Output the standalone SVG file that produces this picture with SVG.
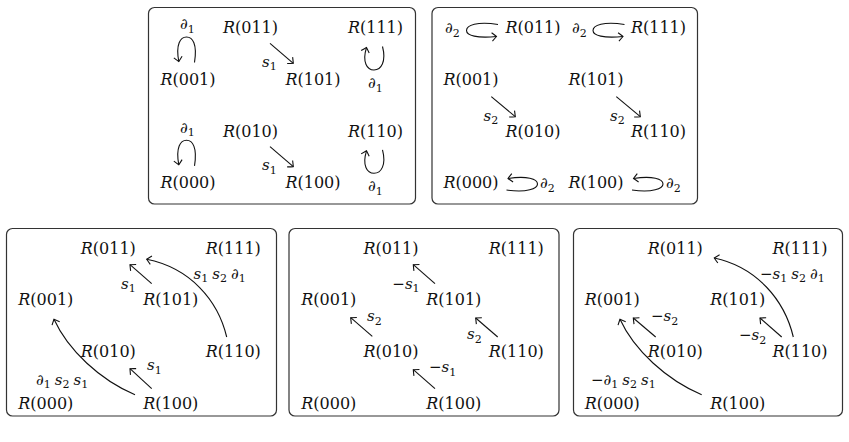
<svg xmlns="http://www.w3.org/2000/svg" width="849" height="442" viewBox="0 0 849 442">
<defs>
<style>
.box{fill:none;stroke:#333;stroke-width:1.2}
.n{font-family:"DejaVu Serif","Liberation Serif",serif;font-size:16px;text-anchor:middle;fill:#111}
.l{font-family:"DejaVu Serif","Liberation Serif",serif;font-size:15px;fill:#111}
.i{font-style:italic}
.sub{font-size:11px;font-style:normal}
.e{fill:none;stroke:#111;stroke-width:1.1;marker-end:url(#to)}
</style>
<marker id="to" viewBox="-7 -7 14 14" refX="0" refY="0" markerWidth="14" markerHeight="14" markerUnits="userSpaceOnUse" orient="auto" overflow="visible">
<path d="M-4.5,-4.2 Q-1.2,-1.2 0,0 Q-1.2,1.2 -4.5,4.2" fill="none" stroke="#111" stroke-width="1.1"/>
</marker>
</defs>

<g id="box1">
<rect class="box" x="148.5" y="7.5" width="267" height="196.5" rx="6"/>
<g id="b1-n011"><text class="n" x="250.5" y="33.3"><tspan class="i">R</tspan>(011)</text></g>
<g id="b1-n111"><text class="n" x="375.5" y="33.3"><tspan class="i">R</tspan>(111)</text></g>
<g id="b1-n001"><text class="n" x="188" y="85"><tspan class="i">R</tspan>(001)</text></g>
<g id="b1-n101"><text class="n" x="313" y="85"><tspan class="i">R</tspan>(101)</text></g>
<g id="b1-n010"><text class="n" x="250.5" y="136.7"><tspan class="i">R</tspan>(010)</text></g>
<g id="b1-n110"><text class="n" x="375.5" y="136.7"><tspan class="i">R</tspan>(110)</text></g>
<g id="b1-n000"><text class="n" x="188" y="188.3"><tspan class="i">R</tspan>(000)</text></g>
<g id="b1-n100"><text class="n" x="313" y="188.3"><tspan class="i">R</tspan>(100)</text></g>
</g>

<g id="box2">
<rect class="box" x="432" y="7.5" width="265.5" height="196.5" rx="6"/>
<g id="b2-n011"><text class="n" x="533" y="33.3"><tspan class="i">R</tspan>(011)</text></g>
<g id="b2-n111"><text class="n" x="658.5" y="33.3"><tspan class="i">R</tspan>(111)</text></g>
<g id="b2-n001"><text class="n" x="471" y="85"><tspan class="i">R</tspan>(001)</text></g>
<g id="b2-n101"><text class="n" x="596" y="85"><tspan class="i">R</tspan>(101)</text></g>
<g id="b2-n010"><text class="n" x="533" y="136.7"><tspan class="i">R</tspan>(010)</text></g>
<g id="b2-n110"><text class="n" x="658.5" y="136.7"><tspan class="i">R</tspan>(110)</text></g>
<g id="b2-n000"><text class="n" x="471" y="188.3"><tspan class="i">R</tspan>(000)</text></g>
<g id="b2-n100"><text class="n" x="596" y="188.3"><tspan class="i">R</tspan>(100)</text></g>
</g>

<g id="box3">
<rect class="box" x="6.5" y="228.5" width="270" height="187.5" rx="6"/>
<g id="b3-n011"><text class="n" x="108.3" y="253.7"><tspan class="i">R</tspan>(011)</text></g>
<g id="b3-n111"><text class="n" x="233.3" y="253.7"><tspan class="i">R</tspan>(111)</text></g>
<g id="b3-n001"><text class="n" x="45.8" y="305.3"><tspan class="i">R</tspan>(001)</text></g>
<g id="b3-n101"><text class="n" x="170.8" y="305.3"><tspan class="i">R</tspan>(101)</text></g>
<g id="b3-n010"><text class="n" x="108.3" y="357"><tspan class="i">R</tspan>(010)</text></g>
<g id="b3-n110"><text class="n" x="233.3" y="357"><tspan class="i">R</tspan>(110)</text></g>
<g id="b3-n000"><text class="n" x="45.8" y="408.7"><tspan class="i">R</tspan>(000)</text></g>
<g id="b3-n100"><text class="n" x="170.8" y="408.7"><tspan class="i">R</tspan>(100)</text></g>
</g>

<g id="box4">
<rect class="box" x="289" y="228.5" width="270" height="187.5" rx="6"/>
<g id="b4-n011"><text class="n" x="391" y="253.7"><tspan class="i">R</tspan>(011)</text></g>
<g id="b4-n111"><text class="n" x="516.3" y="253.7"><tspan class="i">R</tspan>(111)</text></g>
<g id="b4-n001"><text class="n" x="328.8" y="305.3"><tspan class="i">R</tspan>(001)</text></g>
<g id="b4-n101"><text class="n" x="453.8" y="305.3"><tspan class="i">R</tspan>(101)</text></g>
<g id="b4-n010"><text class="n" x="391" y="357"><tspan class="i">R</tspan>(010)</text></g>
<g id="b4-n110"><text class="n" x="516.3" y="357"><tspan class="i">R</tspan>(110)</text></g>
<g id="b4-n000"><text class="n" x="328.8" y="408.7"><tspan class="i">R</tspan>(000)</text></g>
<g id="b4-n100"><text class="n" x="453.8" y="408.7"><tspan class="i">R</tspan>(100)</text></g>
</g>

<g id="box5">
<rect class="box" x="573.5" y="228.5" width="269" height="187.5" rx="6"/>
<g id="b5-n011"><text class="n" x="675.3" y="253.7"><tspan class="i">R</tspan>(011)</text></g>
<g id="b5-n111"><text class="n" x="800" y="253.7"><tspan class="i">R</tspan>(111)</text></g>
<g id="b5-n001"><text class="n" x="612.3" y="305.3"><tspan class="i">R</tspan>(001)</text></g>
<g id="b5-n101"><text class="n" x="737.8" y="305.3"><tspan class="i">R</tspan>(101)</text></g>
<g id="b5-n010"><text class="n" x="675.3" y="357"><tspan class="i">R</tspan>(010)</text></g>
<g id="b5-n110"><text class="n" x="800" y="357"><tspan class="i">R</tspan>(110)</text></g>
<g id="b5-n000"><text class="n" x="612.3" y="408.7"><tspan class="i">R</tspan>(000)</text></g>
<g id="b5-n100"><text class="n" x="737.8" y="408.7"><tspan class="i">R</tspan>(100)</text></g>
</g>

<g id="connectors">
<!-- box 1 -->
<path class="e" d="M194.5,62.5 C197.5,44 192.5,37 186.5,37 C180.5,37 175.5,44 178.8,61.5"/>
<path class="e" d="M194.5,165.8 C197.5,147.3 192.5,140.3 186.5,140.3 C180.5,140.3 175.5,147.3 178.8,164.8"/>
<path class="e" d="M270,43.3 L293.3,63.3"/>
<path class="e" d="M270,146.6 L293.3,166.6"/>
<path class="e" d="M382.5,46.5 C386.5,62 381,70 374,70 C367,70 362,62 366.5,47.5"/>
<path class="e" d="M382.5,149.8 C386.5,165.3 381,173.3 374,173.3 C367,173.3 362,165.3 366.5,150.8"/>
<!-- box 2 -->
<path class="e" d="M498,24.5 C477,21 466.5,25.5 466.5,30.5 C466.5,35.5 477,38.5 496.5,36.5"/>
<path class="e" d="M624.5,24.5 C603.5,21 593,25.5 593,30.5 C593,35.5 603.5,38.5 623,36.5"/>
<path class="e" d="M491.3,96.7 L515.3,116.7"/>
<path class="e" d="M616.3,96.7 L640.3,116.7"/>
<path class="e" d="M506.5,190 C527,193 537.5,188.5 537.5,184 C537.5,179 527,175.5 508,178.5"/>
<path class="e" d="M632,190 C652.5,193 663,188.5 663,184 C663,179 652.5,175.5 633.5,178.5"/>
<!-- box 3 -->
<path class="e" d="M151.7,283.7 L130,264.7"/>
<path class="e" d="M226.7,337 C218,300 190,268 146.7,259.3"/>
<path class="e" d="M151.7,388.7 L130,368.7"/>
<path class="e" d="M135,394.7 C100,380 68,350 54,319.3"/>
<!-- box 4 -->
<path class="e" d="M435,283.7 L413.3,264.7"/>
<path class="e" d="M372.3,336.3 L350.7,317.7"/>
<path class="e" d="M497.7,337 L475.7,318"/>
<path class="e" d="M435,388.7 L413.3,369.7"/>
<!-- box 5 -->
<path class="e" d="M793.3,337 C784.6,300 756.6,267 714.3,258"/>
<path class="e" d="M781.7,337 L760,318"/>
<path class="e" d="M655.7,337 L633.3,318"/>
<path class="e" d="M701.7,394.7 C666.7,380 634,350 620,319.3"/>
</g>

<g id="labels">
<!-- box 1 -->
<text class="l" x="180" y="29.3"><tspan class="i">∂</tspan><tspan class="sub" dy="3.5">1</tspan></text>
<text class="l" x="180" y="132.6"><tspan class="i">∂</tspan><tspan class="sub" dy="3.5">1</tspan></text>
<text class="l" x="262" y="66.7"><tspan class="i">s</tspan><tspan class="sub" dy="3.5">1</tspan></text>
<text class="l" x="262" y="170"><tspan class="i">s</tspan><tspan class="sub" dy="3.5">1</tspan></text>
<text class="l" x="368" y="88"><tspan class="i">∂</tspan><tspan class="sub" dy="3.5">1</tspan></text>
<text class="l" x="368" y="191.3"><tspan class="i">∂</tspan><tspan class="sub" dy="3.5">1</tspan></text>
<!-- box 2 -->
<text class="l" x="445" y="33.3"><tspan class="i">∂</tspan><tspan class="sub" dy="3.5">2</tspan></text>
<text class="l" x="572" y="33.3"><tspan class="i">∂</tspan><tspan class="sub" dy="3.5">2</tspan></text>
<text class="l" x="483.5" y="120.7"><tspan class="i">s</tspan><tspan class="sub" dy="3.5">2</tspan></text>
<text class="l" x="610" y="120.7"><tspan class="i">s</tspan><tspan class="sub" dy="3.5">2</tspan></text>
<text class="l" x="540" y="188.3"><tspan class="i">∂</tspan><tspan class="sub" dy="3.5">2</tspan></text>
<text class="l" x="666" y="188.3"><tspan class="i">∂</tspan><tspan class="sub" dy="3.5">2</tspan></text>
<!-- box 3 -->
<text class="l" x="121" y="288.7"><tspan class="i">s</tspan><tspan class="sub" dy="3.5">1</tspan></text>
<text class="l" x="193.5" y="278.7"><tspan class="i">s</tspan><tspan class="sub" dy="3.5">1</tspan><tspan class="i" dx="4" dy="-3.5">s</tspan><tspan class="sub" dy="3.5">2</tspan><tspan class="i" dx="4" dy="-3.5">∂</tspan><tspan class="sub" dy="3.5">1</tspan></text>
<text class="l" x="147" y="370.3"><tspan class="i">s</tspan><tspan class="sub" dy="3.5">1</tspan></text>
<text class="l" x="36" y="384.7"><tspan class="i">∂</tspan><tspan class="sub" dy="3.5">1</tspan><tspan class="i" dx="4" dy="-3.5">s</tspan><tspan class="sub" dy="3.5">2</tspan><tspan class="i" dx="4" dy="-3.5">s</tspan><tspan class="sub" dy="3.5">1</tspan></text>
<!-- box 4 -->
<text class="l" x="392.3" y="288.7">−<tspan class="i">s</tspan><tspan class="sub" dy="3.5">1</tspan></text>
<text class="l" x="367" y="321.3"><tspan class="i">s</tspan><tspan class="sub" dy="3.5">2</tspan></text>
<text class="l" x="467" y="339.3"><tspan class="i">s</tspan><tspan class="sub" dy="3.5">2</tspan></text>
<text class="l" x="429" y="372">−<tspan class="i">s</tspan><tspan class="sub" dy="3.5">1</tspan></text>
<!-- box 5 -->
<text class="l" x="760" y="278.7">−<tspan class="i">s</tspan><tspan class="sub" dy="3.5">1</tspan><tspan class="i" dx="4" dy="-3.5">s</tspan><tspan class="sub" dy="3.5">2</tspan><tspan class="i" dx="4" dy="-3.5">∂</tspan><tspan class="sub" dy="3.5">1</tspan></text>
<text class="l" x="739" y="340.3">−<tspan class="i">s</tspan><tspan class="sub" dy="3.5">2</tspan></text>
<text class="l" x="651" y="321.3">−<tspan class="i">s</tspan><tspan class="sub" dy="3.5">2</tspan></text>
<text class="l" x="591" y="384.7">−<tspan class="i">∂</tspan><tspan class="sub" dy="3.5">1</tspan><tspan class="i" dx="4" dy="-3.5">s</tspan><tspan class="sub" dy="3.5">2</tspan><tspan class="i" dx="4" dy="-3.5">s</tspan><tspan class="sub" dy="3.5">1</tspan></text>
<!-- cut-off glyph at bottom edge -->
<text class="l" x="431" y="450" style="font-size:12px"><tspan class="i">∂</tspan></text>
</g>
</svg>
